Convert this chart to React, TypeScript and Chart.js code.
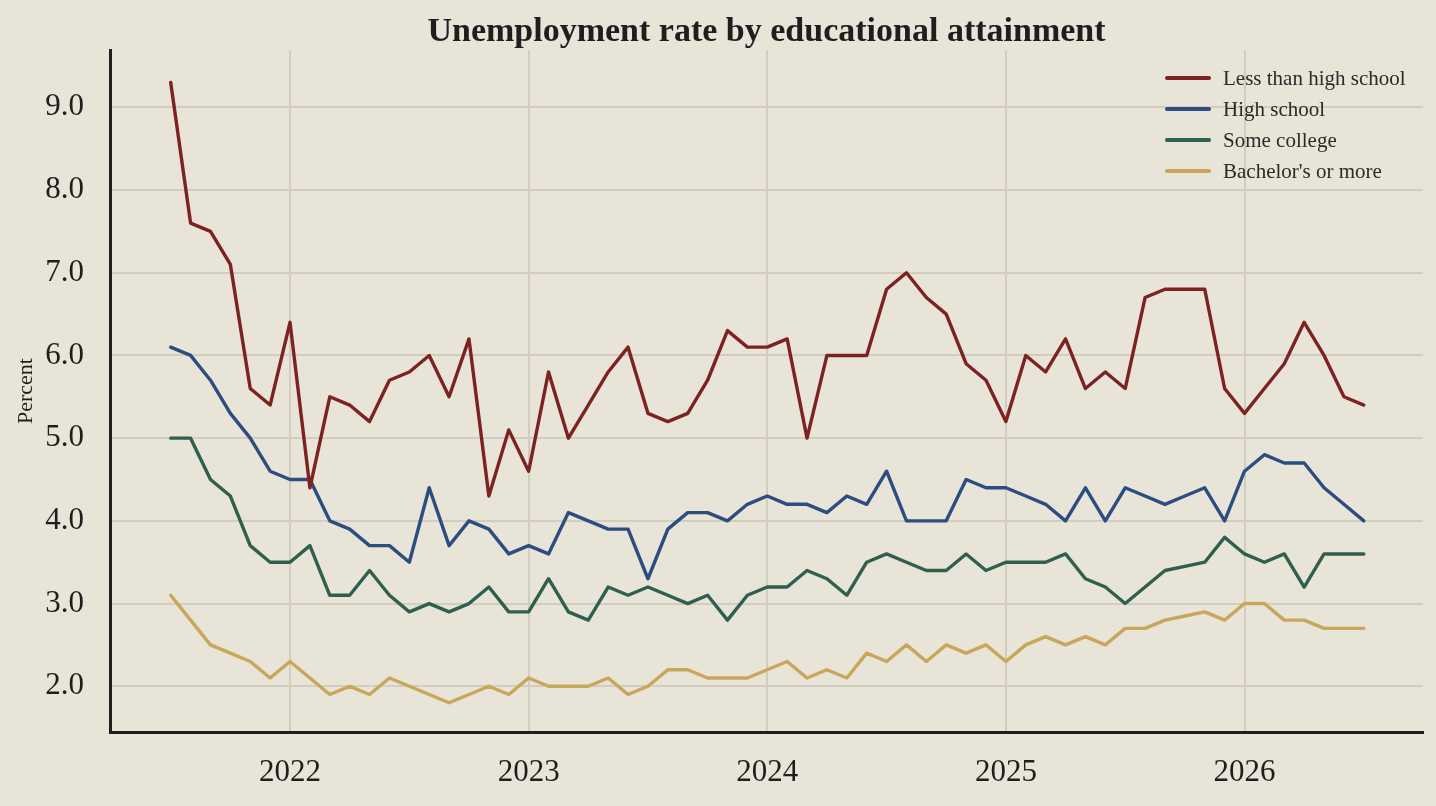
import React, { useEffect, useRef } from 'react';
import { Chart, registerables } from 'chart.js';

Chart.register(...registerables);

// monthly, Jul 2021 .. Jul 2026
const startYear = 2021;
const startMonth = 7;

const lessThanHighSchool = [
  9.3, 7.6, 7.5, 7.1, 5.6, 5.4,
  6.4, 4.4, 5.5, 5.4, 5.2, 5.7, 5.8, 6.0, 5.5, 6.2, 4.3, 5.1,
  4.6, 5.8, 5.0, 5.4, 5.8, 6.1, 5.3, 5.2, 5.3, 5.7, 6.3, 6.1,
  6.1, 6.2, 5.0, 6.0, 6.0, 6.0, 6.8, 7.0, 6.7, 6.5, 5.9, 5.7,
  5.2, 6.0, 5.8, 6.2, 5.6, 5.8, 5.6, 6.7, 6.8, 6.8, 6.8, 5.6,
  5.3, 5.6, 5.9, 6.4, 6.0, 5.5, 5.4,
];

const highSchool = [
  6.1, 6.0, 5.7, 5.3, 5.0, 4.6,
  4.5, 4.5, 4.0, 3.9, 3.7, 3.7, 3.5, 4.4, 3.7, 4.0, 3.9, 3.6,
  3.7, 3.6, 4.1, 4.0, 3.9, 3.9, 3.3, 3.9, 4.1, 4.1, 4.0, 4.2,
  4.3, 4.2, 4.2, 4.1, 4.3, 4.2, 4.6, 4.0, 4.0, 4.0, 4.5, 4.4,
  4.4, 4.3, 4.2, 4.0, 4.4, 4.0, 4.4, 4.3, 4.2, 4.3, 4.4, 4.0,
  4.6, 4.8, 4.7, 4.7, 4.4, 4.2, 4.0,
];

const someCollege = [
  5.0, 5.0, 4.5, 4.3, 3.7, 3.5,
  3.5, 3.7, 3.1, 3.1, 3.4, 3.1, 2.9, 3.0, 2.9, 3.0, 3.2, 2.9,
  2.9, 3.3, 2.9, 2.8, 3.2, 3.1, 3.2, 3.1, 3.0, 3.1, 2.8, 3.1,
  3.2, 3.2, 3.4, 3.3, 3.1, 3.5, 3.6, 3.5, 3.4, 3.4, 3.6, 3.4,
  3.5, 3.5, 3.5, 3.6, 3.3, 3.2, 3.0, 3.2, 3.4, 3.45, 3.5, 3.8,
  3.6, 3.5, 3.6, 3.2, 3.6, 3.6, 3.6,
];

const bachelorsOrMore = [
  3.1, 2.8, 2.5, 2.4, 2.3, 2.1,
  2.3, 2.1, 1.9, 2.0, 1.9, 2.1, 2.0, 1.9, 1.8, 1.9, 2.0, 1.9,
  2.1, 2.0, 2.0, 2.0, 2.1, 1.9, 2.0, 2.2, 2.2, 2.1, 2.1, 2.1,
  2.2, 2.3, 2.1, 2.2, 2.1, 2.4, 2.3, 2.5, 2.3, 2.5, 2.4, 2.5,
  2.3, 2.5, 2.6, 2.5, 2.6, 2.5, 2.7, 2.7, 2.8, 2.85, 2.9, 2.8,
  3.0, 3.0, 2.8, 2.8, 2.7, 2.7, 2.7,
];

const seriesNames = ['Less than high school', 'High school', 'Some college', "Bachelor's or more"];
const seriesColors = ['#7c2220', '#2b4d80', '#2e5f4f', '#c8a65a'];
const yearTicks = [2022, 2023, 2024, 2025, 2026];
const percentTicks = [2, 3, 4, 5, 6, 7, 8, 9];

const FONT = "'Liberation Serif', 'Times New Roman', serif";
const INK = '#1e1e1e';
const BG = '#e8e4d8';
const GRID = '#d3cdc0';

const toPoints = (values: number[]) =>
  values.map((v, i) => ({ x: startYear + (startMonth - 1 + i) / 12, y: v }));

// legend drawn inside the plot, top-right, like the original
const insideLegend = {
  id: 'insideLegend',
  afterDatasetsDraw(chart: Chart) {
    const { ctx, chartArea } = chart;
    const x0 = chartArea.right - 256;
    const y0 = chartArea.top + 28;
    ctx.save();
    ctx.font = `21px ${FONT}`;
    ctx.textBaseline = 'middle';
    ctx.textAlign = 'left';
    chart.data.datasets.forEach((ds, i) => {
      const y = y0 + i * 31;
      ctx.strokeStyle = ds.borderColor as string;
      ctx.lineWidth = 4;
      ctx.lineCap = 'round';
      ctx.beginPath();
      ctx.moveTo(x0, y);
      ctx.lineTo(x0 + 42, y);
      ctx.stroke();
      ctx.fillStyle = '#2a2a2a';
      ctx.fillText(ds.label as string, x0 + 56, y + 1);
    });
    ctx.restore();
  },
};

const App: React.FC = () => {
  const chartRef = useRef<HTMLCanvasElement | null>(null);
  const chartInstance = useRef<Chart | null>(null);

  useEffect(() => {
    document.body.style.background = BG;
    const chartCanvas = chartRef.current?.getContext('2d');
    if (!chartCanvas) return;

    if (chartInstance.current) {
      chartInstance.current.destroy();
    }

    const allSeries = [lessThanHighSchool, highSchool, someCollege, bachelorsOrMore];

    chartInstance.current = new Chart(chartCanvas, {
      type: 'line',
      data: {
        datasets: allSeries.map((values, i) => ({
          label: seriesNames[i],
          data: toPoints(values),
          borderColor: seriesColors[i],
          backgroundColor: seriesColors[i],
          borderWidth: 3.4,
          pointRadius: 0,
          tension: 0,
          borderCapStyle: 'round',
          borderJoinStyle: 'round',
        })),
      },
      options: {
        animation: false,
        responsive: true,
        maintainAspectRatio: false,
        layout: { padding: { top: 0, right: 13, bottom: 0, left: 0 } },
        scales: {
          x: {
            type: 'linear',
            min: 2021.2456,
            max: 2026.748,
            afterBuildTicks: (scale) => {
              scale.ticks = yearTicks.map((v) => ({ value: v }));
            },
            afterFit: (scale) => {
              scale.height = 74;
            },
            ticks: {
              padding: 22,
              color: INK,
              font: { family: FONT, size: 31 },
              callback: (v) => String(v),
            },
            grid: { color: GRID, lineWidth: 2, drawTicks: false },
            border: { color: INK, width: 3 },
          },
          y: {
            type: 'linear',
            min: 1.447,
            max: 9.693,
            afterBuildTicks: (scale) => {
              scale.ticks = percentTicks.map((v) => ({ value: v }));
            },
            afterFit: (scale) => {
              scale.width = 110;
            },
            ticks: {
              padding: 26,
              color: INK,
              font: { family: FONT, size: 31 },
              callback: (v) => Number(v).toFixed(1),
            },
            grid: { color: GRID, lineWidth: 2, drawTicks: false },
            border: { color: INK, width: 3 },
            title: {
              display: true,
              text: 'Percent',
              color: INK,
              font: { family: FONT, size: 22 },
              padding: { top: 13, bottom: 0 },
            },
          },
        },
        plugins: {
          legend: { display: false },
          tooltip: { enabled: false },
          title: {
            display: true,
            text: 'Unemployment rate by educational attainment',
            fullSize: false,
            color: INK,
            font: { family: FONT, size: 34, weight: 'bold', lineHeight: 1 },
            padding: { top: 15, bottom: 1 },
          },
        },
      },
      plugins: [insideLegend],
    });

    return () => {
      if (chartInstance.current) {
        chartInstance.current.destroy();
        chartInstance.current = null;
      }
    };
  }, []);

  return (
    <div
      style={{
        position: 'fixed',
        left: 0,
        top: 0,
        width: 1436,
        height: 806,
        background: BG,
      }}
    >
      <canvas ref={chartRef} />
    </div>
  );
};

export default App;
